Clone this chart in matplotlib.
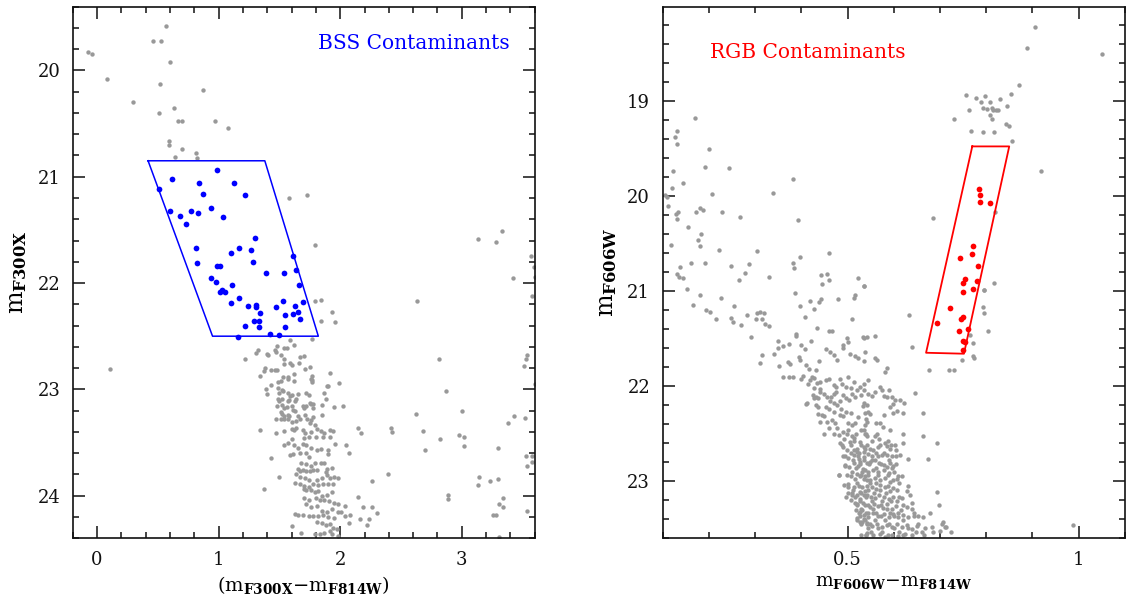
import numpy as np
import matplotlib
matplotlib.use("Agg")
import matplotlib.pyplot as plt
from matplotlib.ticker import MultipleLocator, FormatStrFormatter

plt.rcParams["font.family"] = ["DejaVu Serif"]
plt.rcParams["mathtext.fontset"] = "dejavuserif"

# ---------------- F300X vs (F300X - F814W) ----------------
# field stars (colour, magnitude)
uv_field = [
    (-0.07, 19.83), (-0.04, 19.85), (0.08, 20.08), (0.30, 20.30), (0.57, 19.58), (0.46, 19.72),
    (0.53, 19.72), (0.60, 19.92), (0.52, 20.13), (0.87, 20.18), (0.51, 20.40), (0.63, 20.35),
    (0.67, 20.48), (0.70, 20.48), (0.97, 20.48), (1.08, 20.54), (0.59, 20.66), (0.59, 20.70),
    (0.70, 20.74), (0.64, 20.81), (0.81, 20.78), (0.82, 20.82), (1.58, 21.20), (1.73, 21.17),
    (1.79, 21.64), (3.13, 21.59), (3.28, 21.61), (3.33, 21.51), (3.57, 21.75), (3.59, 21.85),
    (3.60, 21.94), (3.42, 21.95), (3.58, 22.12), (1.79, 22.17), (1.84, 22.16), (2.63, 22.17),
    (0.11, 22.81), (1.93, 22.27), (1.84, 22.36), (1.96, 22.37),
    # upper main sequence
    (1.59, 22.54), (1.62, 22.58), (1.77, 22.53), (1.48, 22.59), (1.54, 22.61), (1.56, 22.61),
    (1.32, 22.63), (1.31, 22.66), (1.40, 22.67), (1.41, 22.68), (1.46, 22.63), (1.47, 22.65),
    (1.22, 22.71), (1.51, 22.68), (1.54, 22.71), (1.67, 22.70), (1.70, 22.69), (1.54, 22.76),
    (1.59, 22.75), (1.60, 22.77), (1.66, 22.75), (1.75, 22.79), (1.71, 22.81), (1.38, 22.80),
    (1.37, 22.83), (1.43, 22.82), (1.46, 22.82), (1.48, 22.82), (1.34, 22.87), (1.53, 22.88),
    (1.57, 22.88), (1.57, 22.90), (1.62, 22.86), (1.62, 22.92), (1.77, 22.87), (1.76, 22.90),
    (1.77, 22.93), (1.92, 22.85), (1.89, 22.97), (1.99, 22.94), (1.43, 22.96), (1.49, 22.93),
    (1.51, 22.92), (1.87, 23.03), (1.39, 23.00), (1.40, 23.04), (1.49, 22.99), (1.52, 23.01),
    (1.50, 23.03), (1.53, 23.02), (1.57, 23.03), (1.59, 23.06), (1.60, 23.05), (1.65, 23.04),
    (1.72, 23.03), (1.74, 23.05), (1.88, 23.09), (1.49, 23.09), (1.50, 23.11), (1.52, 23.09),
    (1.57, 23.11), (1.58, 23.10), (1.64, 23.09), (1.63, 23.11), (1.75, 23.13), (1.78, 23.14),
    (1.48, 23.16), (1.52, 23.15), (1.54, 23.18), (1.56, 23.17), (1.60, 23.16), (1.61, 23.19),
    (1.63, 23.20), (1.69, 23.16), (1.70, 23.18), (1.72, 23.16), (1.76, 23.14), (1.78, 23.18),
    (1.95, 23.17), (2.02, 23.16), (1.51, 23.21), (1.52, 23.23), (1.54, 23.25), (1.57, 23.24),
    (1.58, 23.25), (1.65, 23.25), (1.67, 23.28), (1.71, 23.24), (1.73, 23.28), (1.78, 23.26),
    (1.76, 23.29), (1.85, 23.24), (1.47, 23.28), (1.51, 23.28), (1.54, 23.28), (1.57, 23.28),
    (1.60, 23.31), (1.64, 23.30), (1.75, 23.32), (1.79, 23.34), (1.81, 23.37), (1.84, 23.39),
    (1.87, 23.41), (1.92, 23.38), (1.94, 23.39), (1.34, 23.38), (1.47, 23.41), (1.54, 23.39),
    (1.60, 23.37), (1.62, 23.38), (1.64, 23.36), (1.69, 23.38), (1.71, 23.41), (1.76, 23.40),
    (2.15, 23.36), (2.17, 23.41), (1.85, 23.15), (1.90, 22.97), (1.77, 22.91),
    # lower main sequence
    (1.60, 23.47), (1.70, 23.46), (1.74, 23.45), (1.80, 23.45), (1.86, 23.45), (1.92, 23.45),
    (1.69, 23.51), (1.72, 23.52), (1.76, 23.55), (1.65, 23.55), (1.62, 23.52), (1.57, 23.50),
    (1.54, 23.52), (1.61, 23.61), (1.59, 23.62), (1.67, 23.60), (1.72, 23.60), (1.74, 23.64),
    (1.81, 23.57), (1.84, 23.56), (1.90, 23.57), (1.90, 23.61), (1.96, 23.51), (2.05, 23.52),
    (2.07, 23.60), (1.43, 23.65), (1.68, 23.69), (1.72, 23.70), (1.76, 23.72), (1.79, 23.69),
    (1.84, 23.69), (1.87, 23.69), (1.93, 23.74), (1.89, 23.75), (1.88, 23.78), (1.65, 23.75),
    (1.67, 23.77), (1.69, 23.76), (1.72, 23.77), (1.75, 23.77), (1.78, 23.76), (1.81, 23.76),
    (1.64, 23.80), (1.67, 23.82), (1.71, 23.83), (1.74, 23.85), (1.81, 23.85), (1.85, 23.83),
    (1.89, 23.81), (1.92, 23.83), (1.95, 23.82), (1.98, 23.83), (1.50, 23.82), (1.37, 23.94),
    (1.63, 23.88), (1.67, 23.89), (1.70, 23.91), (1.74, 23.92), (1.78, 23.89), (1.82, 23.90),
    (1.86, 23.89), (1.90, 23.89), (1.94, 23.89), (1.70, 23.94), (1.72, 23.95), (1.76, 23.95),
    (1.79, 23.97), (1.82, 23.96), (1.85, 24.00), (1.89, 23.99), (1.93, 23.97), (1.70, 24.02),
    (1.74, 24.04), (1.80, 24.02), (1.83, 24.04), (1.87, 24.04), (1.91, 24.05), (1.95, 24.07),
    (1.98, 24.08), (2.04, 24.10), (2.15, 24.01), (2.26, 23.86), (2.19, 24.11), (2.26, 24.11),
    (2.30, 24.16), (1.72, 24.08), (1.76, 24.11), (1.81, 24.10), (1.85, 24.14), (1.89, 24.15),
    (1.93, 24.13), (1.98, 24.15), (2.01, 24.15), (2.04, 24.19), (1.63, 24.17), (1.65, 24.18),
    (1.69, 24.18), (1.74, 24.19), (1.78, 24.19), (1.82, 24.19), (1.86, 24.18), (1.90, 24.20),
    (1.95, 24.21), (2.08, 24.18), (2.16, 24.22), (2.22, 24.28), (2.24, 24.22), (2.07, 24.26),
    (1.60, 24.29), (1.81, 24.25), (1.85, 24.26), (1.88, 24.28), (1.92, 24.27), (1.94, 24.30),
    (1.97, 24.31), (1.68, 24.35), (1.79, 24.36), (1.83, 24.36), (1.87, 24.35), (1.92, 24.33),
    (1.93, 24.36), (1.98, 24.38),
    # red outliers
    (2.42, 23.36), (2.43, 23.40), (2.62, 23.23), (2.68, 23.39), (2.82, 23.47), (2.87, 23.02),
    (2.81, 22.71), (2.70, 23.57), (2.98, 23.43), (3.02, 23.45), (3.02, 23.53), (3.00, 23.20),
    (3.43, 23.25), (3.38, 23.32), (3.52, 23.27), (3.51, 22.78), (3.53, 22.71), (3.54, 22.68),
    (3.60, 22.95), (3.30, 23.55), (3.14, 23.82), (3.13, 23.90), (3.23, 23.86), (3.30, 23.84),
    (3.34, 24.02), (3.31, 24.08), (3.34, 24.11), (3.26, 24.18), (3.28, 24.18), (3.31, 24.39),
    (3.53, 23.63), (3.58, 23.63), (3.54, 23.72), (3.58, 23.68), (3.54, 24.14), (2.89, 23.99),
    (2.89, 24.03), (2.39, 23.80),
]

# stars inside the BSS selection box
uv_bss = [
    (0.51, 21.12), (0.62, 21.02), (0.84, 21.06), (0.99, 20.94), (1.13, 21.06), (0.87, 21.16),
    (1.22, 21.17), (0.60, 21.32), (0.68, 21.37), (0.77, 21.32), (0.83, 21.34), (0.73, 21.44),
    (0.94, 21.29), (1.04, 21.38), (1.30, 21.58), (0.81, 21.67), (1.17, 21.67), (1.27, 21.69),
    (1.10, 21.72), (0.82, 21.81), (1.28, 21.80), (0.99, 21.84), (1.01, 21.84), (1.39, 21.91),
    (1.54, 21.91), (1.61, 21.75), (1.64, 21.88), (1.66, 22.02), (0.94, 21.95), (0.98, 21.99),
    (1.11, 22.02), (1.01, 22.08), (1.03, 22.07), (1.05, 22.08), (1.17, 22.14), (1.10, 22.19),
    (1.24, 22.22), (1.31, 22.21), (1.31, 22.23), (1.34, 22.28), (1.22, 22.40), (1.29, 22.36),
    (1.33, 22.36), (1.33, 22.41), (1.42, 22.48), (1.50, 22.49), (1.16, 22.51), (1.47, 22.23),
    (1.53, 22.17), (1.55, 22.30), (1.55, 22.41), (1.61, 22.29), (1.63, 22.22), (1.65, 22.27),
    (1.67, 22.34), (1.69, 22.18),
]
bss_box_col = [0.42, 1.38, 1.82, 0.95, 0.42]
bss_box_mag = [20.85, 20.85, 22.50, 22.50, 20.85]

# ---------------- F606W vs (F606W - F814W) ----------------
opt_field = [
    # giant branch / upper region
    (0.169, 19.18), (0.132, 19.32), (0.127, 19.38), (0.132, 19.45), (0.201, 19.51), (0.191, 19.70),
    (0.243, 19.71), (0.123, 19.74), (0.145, 19.86), (0.120, 19.92), (0.105, 19.99), (0.110, 20.01),
    (0.207, 19.98), (0.339, 19.97), (0.381, 19.82), (0.393, 20.25), (0.111, 20.11), (0.129, 20.19),
    (0.132, 20.24), (0.134, 20.17), (0.173, 20.17), (0.181, 20.13), (0.188, 20.15), (0.229, 20.17),
    (0.268, 20.22), (0.155, 20.33), (0.183, 20.40), (0.176, 20.46), (0.180, 20.53), (0.117, 20.52),
    (0.221, 20.57), (0.304, 20.58), (0.460, 20.60), (0.381, 20.71), (0.384, 20.76), (0.397, 20.64),
    (0.162, 20.71), (0.191, 20.71), (0.138, 20.75), (0.248, 20.74), (0.286, 20.72), (0.131, 20.82),
    (0.135, 20.85), (0.144, 20.86), (0.279, 20.81), (0.265, 20.88), (0.330, 20.85), (0.442, 20.83),
    (0.455, 20.82), (0.445, 20.93), (0.461, 20.88), (0.522, 20.86), (0.536, 20.95), (0.153, 20.98),
    (0.180, 21.04), (0.227, 21.07), (0.386, 21.02), (0.443, 21.08), (0.480, 21.08), (0.513, 21.07),
    (0.517, 21.04),
    # subgiant branch
    (0.165, 21.15), (0.194, 21.20), (0.202, 21.22), (0.216, 21.29), (0.254, 21.16), (0.248, 21.28),
    (0.252, 21.33), (0.270, 21.36), (0.283, 21.25), (0.301, 21.29), (0.304, 21.23), (0.310, 21.22),
    (0.319, 21.23), (0.315, 21.30), (0.322, 21.35), (0.330, 21.37), (0.291, 21.48), (0.409, 21.27),
    (0.398, 21.16), (0.419, 21.11), (0.438, 21.12), (0.428, 21.19), (0.509, 21.29), (0.459, 21.42),
    (0.467, 21.42), (0.434, 21.39), (0.389, 21.45), (0.389, 21.47), (0.350, 21.53), (0.360, 21.58),
    (0.373, 21.56), (0.349, 21.60), (0.340, 21.66), (0.316, 21.67), (0.310, 21.76), (0.400, 21.57),
    (0.407, 21.61), (0.421, 21.53), (0.352, 21.79), (0.371, 21.75), (0.376, 21.77), (0.360, 21.90),
    (0.373, 21.91), (0.382, 21.91), (0.395, 21.69), (0.398, 21.73), (0.411, 21.78), (0.416, 21.82),
    (0.431, 21.83), (0.439, 21.74), (0.453, 21.61), (0.463, 21.64), (0.471, 21.67), (0.477, 21.73),
    (0.491, 21.57), (0.491, 21.60), (0.499, 21.50), (0.500, 21.54), (0.506, 21.66), (0.517, 21.68),
    (0.523, 21.71), (0.534, 21.48), (0.536, 21.49), (0.542, 21.48), (0.560, 21.47), (0.538, 21.64),
    (0.535, 21.74), (0.560, 21.71), (0.563, 21.73), (0.581, 21.85), (0.586, 21.81), (0.634, 21.25),
    (0.639, 21.59),
    # turn-off and main sequence
    (0.399, 21.93), (0.404, 21.89), (0.418, 21.94), (0.424, 21.91), (0.434, 21.97), (0.440, 21.96),
    (0.414, 21.98), (0.427, 21.92), (0.427, 22.02), (0.441, 22.03), (0.454, 21.94), (0.461, 21.93),
    (0.470, 21.99), (0.476, 22.01), (0.483, 21.93), (0.489, 21.98), (0.496, 22.01), (0.500, 21.90),
    (0.507, 22.02), (0.513, 21.96), (0.527, 22.01), (0.535, 21.98), (0.412, 22.18), (0.425, 22.09),
    (0.432, 22.12), (0.437, 22.13), (0.441, 22.06), (0.450, 22.08), (0.455, 22.11), (0.464, 22.12),
    (0.470, 22.08), (0.476, 22.06), (0.432, 22.20), (0.437, 22.22), (0.453, 22.22), (0.459, 22.24),
    (0.470, 22.18), (0.478, 22.20), (0.484, 22.16), (0.491, 22.09), (0.497, 22.13), (0.504, 22.15),
    (0.510, 22.08), (0.516, 22.12), (0.520, 22.04), (0.529, 22.09), (0.536, 22.04), (0.444, 22.30),
    (0.450, 22.32), (0.455, 22.38), (0.467, 22.36), (0.473, 22.39), (0.484, 22.30), (0.491, 22.32),
    (0.497, 22.27), (0.502, 22.39), (0.510, 22.41), (0.517, 22.39), (0.470, 22.50), (0.481, 22.52),
    (0.490, 22.48), (0.499, 22.50), (0.509, 22.53), (0.519, 22.50), (0.529, 22.46), (0.539, 22.50),
    (0.484, 22.60), (0.491, 22.64), (0.499, 22.67), (0.507, 22.62), (0.514, 22.67), (0.524, 22.70),
    (0.535, 22.64), (0.495, 22.74), (0.502, 22.76), (0.513, 22.73), (0.525, 22.77), (0.535, 22.75),
    (0.495, 22.83), (0.504, 22.85), (0.514, 22.81), (0.523, 22.84), (0.533, 22.87), (0.481, 22.94),
    (0.499, 22.94), (0.507, 22.95), (0.520, 22.92), (0.529, 22.94), (0.493, 23.04), (0.502, 23.03),
    (0.513, 23.06), (0.520, 23.02), (0.531, 23.06), (0.500, 23.13), (0.510, 23.12), (0.520, 23.15),
    (0.527, 23.11), (0.536, 23.15), (0.507, 23.20), (0.517, 23.23), (0.526, 23.19), (0.534, 23.23),
    (0.519, 23.30), (0.525, 23.33), (0.532, 23.30), (0.539, 23.33), (0.520, 23.41), (0.527, 23.43),
    (0.535, 23.40), (0.542, 23.44), (0.540, 23.57), (0.411, 22.19), (0.427, 22.13), (0.437, 22.29),
    (0.441, 22.38), (0.450, 22.50), (0.481, 22.94), (0.488, 22.62), (0.491, 22.74), (0.500, 22.46),
    (0.506, 22.59), (0.520, 22.69), (0.527, 22.80), (0.495, 22.84), (0.502, 23.06), (0.497, 23.17),
    (0.509, 23.15), (0.520, 23.24), (0.527, 23.32), (0.520, 23.39), (0.531, 23.43), (0.540, 23.57),
    (0.527, 22.95), (0.542, 22.99), (0.538, 23.10),
    (0.545, 21.94), (0.570, 22.01), (0.574, 22.04), (0.589, 22.04), (0.545, 22.08), (0.553, 22.10),
    (0.560, 22.06), (0.578, 22.10), (0.586, 22.12), (0.596, 22.11), (0.603, 22.15), (0.614, 22.15),
    (0.646, 22.07), (0.535, 22.18), (0.542, 22.20), (0.591, 22.22), (0.599, 22.19), (0.622, 22.18),
    (0.538, 22.28), (0.545, 22.27), (0.549, 22.29), (0.579, 22.30), (0.599, 22.28), (0.607, 22.26),
    (0.620, 22.28), (0.663, 22.28), (0.540, 22.35), (0.543, 22.38), (0.538, 22.41), (0.562, 22.39),
    (0.571, 22.39), (0.576, 22.43), (0.591, 22.46), (0.535, 22.46), (0.538, 22.50), (0.543, 22.53),
    (0.560, 22.53), (0.563, 22.50), (0.569, 22.56), (0.620, 22.50), (0.664, 22.53), (0.693, 22.60),
    (0.620, 22.60), (0.581, 22.60), (0.585, 22.63), (0.594, 22.62), (0.605, 22.67), (0.542, 22.62),
    (0.549, 22.66), (0.556, 22.67), (0.565, 22.64), (0.536, 22.69), (0.545, 22.71), (0.553, 22.74),
    (0.574, 22.72), (0.585, 22.72), (0.596, 22.74), (0.614, 22.73), (0.632, 22.77), (0.675, 22.77),
    (0.535, 22.78), (0.542, 22.81), (0.549, 22.80), (0.560, 22.78), (0.569, 22.81), (0.578, 22.83),
    (0.585, 22.85), (0.592, 22.81), (0.599, 22.84), (0.605, 22.82), (0.538, 22.88), (0.545, 22.90),
    (0.556, 22.88), (0.567, 22.90), (0.578, 22.88), (0.589, 22.91), (0.610, 22.95), (0.617, 22.95),
    (0.538, 22.95), (0.549, 22.99), (0.560, 22.97), (0.571, 22.99), (0.581, 22.97), (0.592, 23.01),
    (0.599, 22.99), (0.542, 23.05), (0.553, 23.06), (0.562, 23.08), (0.571, 23.04), (0.581, 23.06),
    (0.591, 23.10), (0.599, 23.07), (0.608, 23.09), (0.693, 23.11), (0.628, 23.10), (0.635, 23.15),
    (0.542, 23.15), (0.550, 23.17), (0.560, 23.18), (0.569, 23.15), (0.578, 23.17), (0.589, 23.19),
    (0.598, 23.17), (0.607, 23.21), (0.617, 23.18), (0.538, 23.25), (0.548, 23.27), (0.558, 23.24),
    (0.567, 23.26), (0.576, 23.28), (0.585, 23.24), (0.596, 23.29), (0.605, 23.26), (0.615, 23.30),
    (0.628, 23.27), (0.639, 23.23), (0.678, 23.33), (0.697, 23.25), (0.535, 23.36), (0.545, 23.38),
    (0.556, 23.34), (0.567, 23.37), (0.578, 23.35), (0.589, 23.38), (0.599, 23.35), (0.610, 23.38),
    (0.621, 23.36), (0.632, 23.38), (0.643, 23.34), (0.653, 23.37), (0.664, 23.38), (0.542, 23.45),
    (0.553, 23.47), (0.563, 23.45), (0.574, 23.48), (0.585, 23.46), (0.596, 23.48), (0.607, 23.45),
    (0.617, 23.48), (0.628, 23.46), (0.639, 23.50), (0.650, 23.47), (0.668, 23.49), (0.682, 23.48),
    (0.704, 23.45), (0.713, 23.48), (0.725, 23.53), (0.542, 23.55), (0.556, 23.57), (0.571, 23.56),
    (0.581, 23.59), (0.596, 23.57), (0.610, 23.58), (0.625, 23.56), (0.639, 23.57), (0.661, 23.53),
    (0.686, 23.53), (0.700, 23.52), (0.707, 23.43), (0.711, 23.48), (0.988, 23.46),
    # densest part of the lower main sequence
    (0.515, 22.58), (0.552, 22.58), (0.588, 22.58), (0.530, 22.62), (0.571, 22.62), (0.602, 22.62),
    (0.520, 22.66), (0.538, 22.66), (0.592, 22.66), (0.508, 22.70), (0.561, 22.70), (0.579, 22.70),
    (0.522, 22.74), (0.566, 22.74), (0.604, 22.74), (0.512, 22.78), (0.552, 22.78), (0.590, 22.78),
    (0.528, 22.82), (0.546, 22.82), (0.573, 22.82), (0.519, 22.86), (0.561, 22.86), (0.596, 22.86),
    (0.510, 22.90), (0.531, 22.90), (0.600, 22.90), (0.544, 22.94), (0.565, 22.94), (0.588, 22.94),
    (0.516, 22.98), (0.535, 22.98), (0.607, 22.98), (0.548, 23.02), (0.562, 23.02), (0.612, 23.02),
    (0.525, 23.05), (0.588, 23.05), (0.630, 23.05), (0.512, 23.09), (0.545, 23.09), (0.571, 23.09),
    (0.530, 23.13), (0.558, 23.13), (0.584, 23.13), (0.516, 23.17), (0.540, 23.17), (0.612, 23.17),
    (0.528, 23.21), (0.552, 23.21), (0.575, 23.21), (0.595, 23.21), (0.520, 23.25), (0.545, 23.25),
    (0.572, 23.25), (0.620, 23.25), (0.530, 23.29), (0.556, 23.29), (0.586, 23.29), (0.640, 23.29),
    (0.545, 23.33), (0.562, 23.33), (0.592, 23.33), (0.610, 23.33), (0.528, 23.37), (0.573, 23.37),
    (0.600, 23.37), (0.644, 23.37), (0.538, 23.41), (0.560, 23.41), (0.581, 23.41), (0.620, 23.41),
    (0.530, 23.45), (0.548, 23.45), (0.590, 23.45), (0.652, 23.45), (0.545, 23.49), (0.566, 23.49),
    (0.600, 23.49), (0.630, 23.49), (0.550, 23.53), (0.575, 23.53), (0.612, 23.53), (0.648, 23.53),
    (0.530, 23.57), (0.588, 23.57), (0.620, 23.57), (0.666, 23.57), (0.462, 22.16), (0.486, 22.24),
    (0.507, 22.28), (0.523, 22.33), (0.478, 22.44), (0.493, 22.56), (0.514, 22.55), (0.460, 22.44),
    (0.470, 22.27), (0.533, 22.21), (0.528, 22.59),
    # bright red stars around the selection box
    (0.677, 21.83), (0.720, 21.83), (0.731, 21.83), (0.747, 21.73), (0.772, 21.68), (0.774, 21.71),
    (0.772, 21.55), (0.766, 21.46), (0.794, 21.17), (0.795, 21.23), (0.796, 20.99), (0.804, 21.42),
    (0.905, 18.22), (0.889, 18.45), (1.050, 18.51), (0.871, 18.83), (0.756, 18.94), (0.779, 18.97),
    (0.797, 18.95), (0.789, 19.01), (0.809, 19.01), (0.830, 18.98), (0.854, 18.93), (0.845, 19.05),
    (0.763, 19.10), (0.794, 19.08), (0.802, 19.09), (0.812, 19.08), (0.815, 19.10), (0.822, 19.10),
    (0.826, 19.10), (0.808, 19.15), (0.813, 19.19), (0.730, 19.19), (0.843, 19.24), (0.849, 19.27),
    (0.768, 19.32), (0.794, 19.33), (0.816, 19.33), (0.856, 19.42), (0.918, 19.74), (0.686, 20.23),
    (0.819, 20.17), (0.535, 20.95), (0.817, 20.92), (0.795, 20.99),
]

# stars inside the RGB selection box
opt_rgb = [
    (0.784, 19.93), (0.787, 19.99), (0.786, 20.06), (0.809, 20.08), (0.772, 20.53), (0.770, 20.61),
    (0.743, 20.65), (0.782, 20.74), (0.755, 20.87), (0.750, 20.92), (0.781, 20.90), (0.772, 20.98),
    (0.750, 21.01), (0.721, 21.18), (0.745, 21.29), (0.749, 21.27), (0.694, 21.34), (0.742, 21.42),
    (0.750, 21.53), (0.755, 21.54), (0.751, 21.62), (0.760, 21.40),
]
rgb_box_col = [0.77, 0.85, 0.752, 0.67, 0.77]
rgb_box_mag = [19.48, 19.48, 21.66, 21.65, 19.48]

GREY = "#999999"

fig = plt.figure(figsize=(11.27, 6.02), dpi=100)
ax1 = fig.add_axes([0.0645, 0.106, 0.410, 0.883])
ax2 = fig.add_axes([0.588, 0.106, 0.410, 0.883])


def style_axes(ax, xmaj, xmin, ymaj, ymin):
    ax.xaxis.set_major_locator(MultipleLocator(xmaj))
    ax.xaxis.set_minor_locator(MultipleLocator(xmin))
    ax.yaxis.set_major_locator(MultipleLocator(ymaj))
    ax.yaxis.set_minor_locator(MultipleLocator(ymin))
    ax.tick_params(which="both", direction="in", top=True, right=True, width=1.1,
                   labelsize=13, pad=9, colors="#111111")
    ax.tick_params(which="major", length=8.5)
    ax.tick_params(which="minor", length=4.3)
    for s in ax.spines.values():
        s.set_linewidth(1.2)
        s.set_color("#111111")


# left panel
fx, fy = np.array(uv_field).T
bx, by = np.array(uv_bss).T
ax1.scatter(fx, fy, s=10, color=GREY, linewidths=0, zorder=2)
ax1.scatter(bx, by, s=17, color="blue", linewidths=0, zorder=3)
ax1.plot(bss_box_col, bss_box_mag, color="blue", lw=1.1, zorder=2)
ax1.set_xlim(-0.2, 3.6)
ax1.set_ylim(24.4, 19.4)
style_axes(ax1, 1, 0.2, 1, 0.2)
ax1.text(0.53, 0.93, "BSS Contaminants", transform=ax1.transAxes, color="blue",
         fontsize=14.5, va="center", ha="left")
ax1.set_xlabel(r"$(\mathrm{m}_{\mathbf{F300X}}{-}\mathrm{m}_{\mathbf{F814W}})$", fontsize=14, labelpad=4)
ax1.set_ylabel(r"$\mathrm{m}_{\mathbf{F300X}}$", fontsize=17, labelpad=6)

# right panel
gx, gy = np.array(opt_field).T
rx, ry = np.array(opt_rgb).T
ax2.scatter(gx, gy, s=10, color=GREY, linewidths=0, zorder=2)
ax2.scatter(rx, ry, s=17, color="red", linewidths=0, zorder=3)
ax2.plot(rgb_box_col, rgb_box_mag, color="red", lw=1.3, zorder=2)
ax2.set_xlim(0.1, 1.1)
ax2.set_ylim(23.6, 18.01)
style_axes(ax2, 0.5, 0.1, 1, 0.2)
ax2.xaxis.set_major_formatter(FormatStrFormatter("%g"))
ax2.text(0.102, 0.913, "RGB Contaminants", transform=ax2.transAxes, color="red",
         fontsize=14.5, va="center", ha="left")
ax2.set_xlabel(r"$\mathrm{m}_{\mathbf{F606W}}{-}\mathrm{m}_{\mathbf{F814W}}$", fontsize=13.5, labelpad=3)
ax2.set_ylabel(r"$\mathrm{m}_{\mathbf{F606W}}$", fontsize=17, labelpad=6)

fig.savefig("out.png", dpi=100)
